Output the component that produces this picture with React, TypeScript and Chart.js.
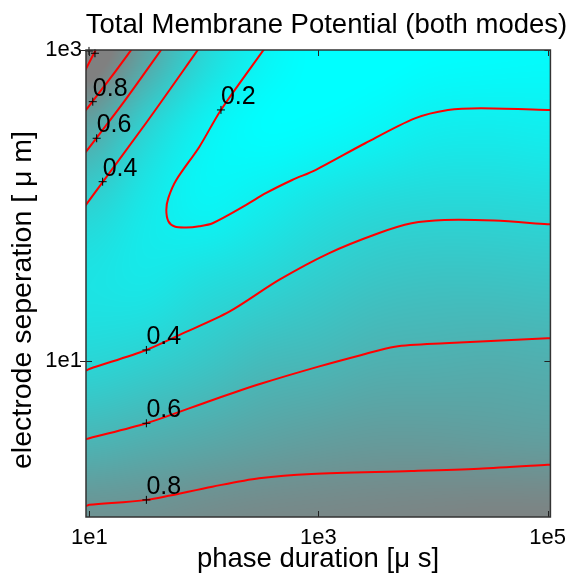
import React, { useEffect, useRef } from 'react';
import { Chart, registerables } from 'chart.js';

Chart.register(...registerables);

const FONT = '"Liberation Sans", Arial, Helvetica, sans-serif';

// axis ranges (phase duration [us], electrode separation [um])
const X_MIN = 9.35;
const X_MAX = 1.06e5;
const Y_MIN = 1;
const Y_MAX = 1000;

const xTickValues = [1e1, 1e3, 1e5];
const xTickLabels = ['1e1', '1e3', '1e5'];
const yTickValues = [1e1, 1e3];
const yTickLabels = ['1e1', '1e3'];

const titleText = 'Total Membrane Potential (both modes)';
const xTitleText = 'phase duration [\u03bc s]';
const yTitleText = 'electrode seperation [ \u03bc m]';

// potential field estimated on a coarse grid (log10 coordinates)
const fieldLogX = [1, 1.5, 2, 2.5, 3, 3.5, 4, 4.5, 5];
const fieldLogY = [0, 0.5, 1, 1.5, 2, 2.5, 3];
const fieldRow0 = [0.83, 0.84, 0.87, 0.89, 0.9, 0.91, 0.92, 0.93, 0.93];
const fieldRow1 = [0.6, 0.64, 0.68, 0.72, 0.75, 0.77, 0.77, 0.76, 0.75];
const fieldRow2 = [0.39, 0.43, 0.49, 0.56, 0.59, 0.63, 0.64, 0.65, 0.64];
const fieldRow3 = [0.3, 0.28, 0.34, 0.39, 0.45, 0.5, 0.52, 0.52, 0.51];
const fieldRow4 = [0.41, 0.27, 0.19, 0.24, 0.31, 0.36, 0.38, 0.38, 0.37];
const fieldRow5 = [0.7, 0.41, 0.21, 0.13, 0.14, 0.18, 0.23, 0.24, 0.23];
const fieldRow6 = [1.07, 0.72, 0.39, 0.2, 0.11, 0.1, 0.12, 0.13, 0.14];
const fieldRows = [fieldRow0, fieldRow1, fieldRow2, fieldRow3, fieldRow4, fieldRow5, fieldRow6];

// colour scale: low potential -> cyan, high potential -> gray
const COLOR_LOW_VALUE = 0.12;
const COLOR_HIGH_VALUE = 0.95;
const COLOR_LOW = [0, 255, 255];
const COLOR_HIGH = [128, 128, 128];

// contour lines as [log10 phase duration, log10 separation]
const contour08Lower = [[0.971, 0.07], [1.0, 0.078], [1.498, 0.11], [2.074, 0.195], [2.482, 0.249], [2.94, 0.277], [3.81, 0.295], [4.4, 0.31], [5.0, 0.335], [5.03, 0.337]];
const contour06Lower = [[0.971, 0.5], [1.0, 0.506], [1.498, 0.602], [2.077, 0.752], [2.51, 0.859], [3.0, 0.966], [3.377, 1.041], [3.667, 1.094], [4.1, 1.116], [5.0, 1.148], [5.03, 1.149]];
const contour04Lower = [[0.971, 0.94], [1.0, 0.951], [1.498, 1.073], [1.788, 1.17], [2.222, 1.319], [2.656, 1.523], [3.09, 1.694], [3.524, 1.823], [3.813, 1.887], [4.1, 1.908], [4.535, 1.904], [5.0, 1.881], [5.03, 1.88]];
const contour02 = [[2.54, 3.02], [2.149, 2.615], [1.961, 2.379], [1.759, 2.165], [1.69, 2.05], [1.672, 1.972], [1.69, 1.9], [1.745, 1.866], [1.845, 1.86], [1.96, 1.868], [2.076, 1.887], [2.366, 2.003], [2.54, 2.08], [2.771, 2.165], [2.974, 2.229], [3.408, 2.401], [3.842, 2.561], [4.131, 2.615], [4.42, 2.626], [5.0, 2.615], [5.03, 2.615]];
const contour04Upper = [[0.95, 1.985], [1.5, 2.536], [1.98, 3.035]];
const contour06Upper = [[0.95, 2.327], [1.3, 2.665], [1.66, 3.035]];
const contour08Upper = [[0.95, 2.595], [1.2, 2.835], [1.4, 3.035]];
const contour10Upper = [[0.95, 2.85], [1.08, 3.035]];

const contourLines = [contour08Lower, contour06Lower, contour04Lower, contour02, contour04Upper, contour06Upper, contour08Upper, contour10Upper];

// contour labels: text, log10 x, log10 y
const labelTexts = ['0.8', '0.6', '0.4', '0.2', '0.4', '0.6', '0.8'];
const labelLogX = [1.498, 1.498, 1.498, 2.149, 1.116, 1.064, 1.03];
const labelLogY = [0.11, 0.602, 1.073, 2.615, 2.154, 2.433, 2.668];
const extraCrossLogX = [1.049, 0.997];
const extraCrossLogY = [2.979, 2.994];

const toPoint = (lx: number, ly: number) => ({ x: Math.pow(10, lx), y: Math.pow(10, ly) });

function catmull(p0: number, p1: number, p2: number, p3: number, t: number) {
  return 0.5 * (2 * p1 + (-p0 + p2) * t + (2 * p0 - 5 * p1 + 4 * p2 - p3) * t * t + (-p0 + 3 * p1 - 3 * p2 + p3) * t * t * t);
}

function sampleField(lx: number, ly: number) {
  const nx = fieldLogX.length, ny = fieldLogY.length;
  const dx = fieldLogX[1] - fieldLogX[0];
  const dy = fieldLogY[1] - fieldLogY[0];
  let fx = (lx - fieldLogX[0]) / dx;
  let fy = (ly - fieldLogY[0]) / dy;
  fx = Math.max(0, Math.min(nx - 1, fx));
  fy = Math.max(0, Math.min(ny - 1, fy));
  const i = Math.min(nx - 2, Math.floor(fx));
  const j = Math.min(ny - 2, Math.floor(fy));
  const tx = fx - i, ty = fy - j;
  const ci = (k: number) => Math.max(0, Math.min(nx - 1, k));
  const cj = (k: number) => Math.max(0, Math.min(ny - 1, k));
  const rowVals: number[] = [];
  for (let r = -1; r <= 2; r++) {
    const row = fieldRows[cj(j + r)];
    rowVals.push(catmull(row[ci(i - 1)], row[ci(i)], row[ci(i + 1)], row[ci(i + 2)], tx));
  }
  return catmull(rowVals[0], rowVals[1], rowVals[2], rowVals[3], ty);
}

const fieldPlugin = {
  id: 'potentialField',
  beforeDatasetsDraw(chart: any) {
    const { ctx, chartArea: a, scales } = chart;
    const xs = scales.x, ys = scales.y;
    const left = Math.round(a.left), top = Math.round(a.top);
    const w = Math.round(a.right) - left, h = Math.round(a.bottom) - top;
    const img = ctx.createImageData(w, h);
    const colLx: number[] = [];
    for (let i = 0; i < w; i++) colLx.push(Math.log10(xs.getValueForPixel(left + i + 0.5)));
    for (let j = 0; j < h; j++) {
      const ly = Math.log10(ys.getValueForPixel(top + j + 0.5));
      for (let i = 0; i < w; i++) {
        const v = sampleField(colLx[i], ly);
        let t = (v - COLOR_LOW_VALUE) / (COLOR_HIGH_VALUE - COLOR_LOW_VALUE);
        t = Math.max(0, Math.min(1, t));
        const k = (j * w + i) * 4;
        img.data[k] = COLOR_LOW[0] + (COLOR_HIGH[0] - COLOR_LOW[0]) * t;
        img.data[k + 1] = COLOR_LOW[1] + (COLOR_HIGH[1] - COLOR_LOW[1]) * t;
        img.data[k + 2] = COLOR_LOW[2] + (COLOR_HIGH[2] - COLOR_LOW[2]) * t;
        img.data[k + 3] = 255;
      }
    }
    ctx.putImageData(img, left, top);
  },
};

const decorPlugin = {
  id: 'decor',
  afterDatasetsDraw(chart: any) {
    const { ctx, scales } = chart;
    ctx.save();
    ctx.fillStyle = '#000';
    ctx.font = `25px ${FONT}`;
    ctx.textAlign = 'left';
    ctx.textBaseline = 'alphabetic';
    labelTexts.forEach((txt, i) => {
      const p = toPoint(labelLogX[i], labelLogY[i]);
      const px = scales.x.getPixelForValue(p.x);
      const py = scales.y.getPixelForValue(p.y);
      ctx.fillText(txt, px, py - 6);
    });
    ctx.restore();
  },
  afterDraw(chart: any) {
    const { ctx, chartArea: a, scales } = chart;
    ctx.save();
    const line = (x1: number, y1: number, x2: number, y2: number) => {
      ctx.beginPath();
      ctx.moveTo(x1, y1);
      ctx.lineTo(x2, y2);
      ctx.stroke();
    };
    ctx.strokeStyle = '#222';
    ctx.lineWidth = 1;
    xTickValues.forEach((v) => {
      const px = Math.round(scales.x.getPixelForValue(v)) + 0.5;
      line(px, a.bottom, px, a.bottom - 6);
      line(px, a.top, px, a.top + 6);
    });
    yTickValues.forEach((v) => {
      const py = Math.round(scales.y.getPixelForValue(v)) + 0.5;
      line(a.left - 6, py, a.left + 6, py);
      line(a.right, py, a.right - 6, py);
    });
    ctx.strokeStyle = '#333';
    ctx.lineWidth = 1.5;
    ctx.strokeRect(a.left, a.top, a.right - a.left, a.bottom - a.top);

    ctx.fillStyle = '#000';
    ctx.textAlign = 'center';
    ctx.textBaseline = 'alphabetic';
    ctx.font = `27.5px ${FONT}`;
    ctx.fillText(titleText, 326.5, 33);
    ctx.font = `27.5px ${FONT}`;
    ctx.fillText(xTitleText, 318, 567);
    ctx.font = `28.5px ${FONT}`;
    ctx.translate(31, 300);
    ctx.rotate(-Math.PI / 2);
    ctx.fillText(yTitleText, 0, 0);
    ctx.restore();
  },
};

export default function App() {
  const ref = useRef<HTMLCanvasElement | null>(null);
  useEffect(() => {
    if (!ref.current) return;
    const crossData = labelLogX.map((lx, i) => toPoint(lx, labelLogY[i])).concat(
      extraCrossLogX.map((lx, i) => toPoint(lx, extraCrossLogY[i]))
    );
    const lineSets = contourLines.map((pts) => ({
      type: 'scatter' as const,
      data: pts.map((p) => toPoint(p[0], p[1])),
      showLine: true,
      borderColor: '#ff0000',
      backgroundColor: '#ff0000',
      borderWidth: 2,
      pointRadius: 0,
      tension: 0.3,
    }));
    const chart = new Chart(ref.current, {
      type: 'scatter',
      data: {
        datasets: [
          {
            data: crossData,
            pointStyle: 'cross',
            pointRadius: 4,
            borderColor: '#000',
            borderWidth: 1,
            showLine: false,
            clip: false,
          } as any,
          ...lineSets,
        ],
      },
      options: {
        responsive: false,
        animation: false,
        events: [],
        layout: { padding: { top: 50, right: 21, left: 0, bottom: 0 } },
        plugins: { legend: { display: false }, tooltip: { enabled: false }, title: { display: false } },
        scales: {
          x: {
            type: 'logarithmic',
            min: X_MIN,
            max: X_MAX,
            grid: { display: false, drawTicks: false },
            border: { display: false },
            afterBuildTicks: (s: any) => {
              s.ticks = xTickValues.map((v) => ({ value: v }));
            },
            afterFit: (s: any) => {
              s.height = 59;
            },
            ticks: {
              autoSkip: false,
              maxRotation: 0,
              padding: 8,
              color: '#000',
              font: { family: FONT, size: 22 },
              callback: (v: any) => {
                const i = xTickValues.indexOf(Number(v));
                return i >= 0 ? xTickLabels[i] : '';
              },
            },
          },
          y: {
            type: 'logarithmic',
            min: Y_MIN,
            max: Y_MAX,
            grid: { display: false, drawTicks: false },
            border: { display: false },
            afterBuildTicks: (s: any) => {
              s.ticks = yTickValues.map((v) => ({ value: v }));
            },
            afterFit: (s: any) => {
              s.width = 86;
            },
            ticks: {
              autoSkip: false,
              padding: 4,
              color: '#000',
              font: { family: FONT, size: 22 },
              callback: (v: any) => {
                const i = yTickValues.indexOf(Number(v));
                return i >= 0 ? yTickLabels[i] : '';
              },
            },
          },
        },
      },
      plugins: [fieldPlugin, decorPlugin],
    } as any);
    return () => chart.destroy();
  }, []);
  return (
    <div style={{ position: 'absolute', left: 0, top: 0, width: 574, height: 576 }}>
      <canvas ref={ref} width={574} height={576} style={{ width: 574, height: 576, display: 'block' }} />
    </div>
  );
}
